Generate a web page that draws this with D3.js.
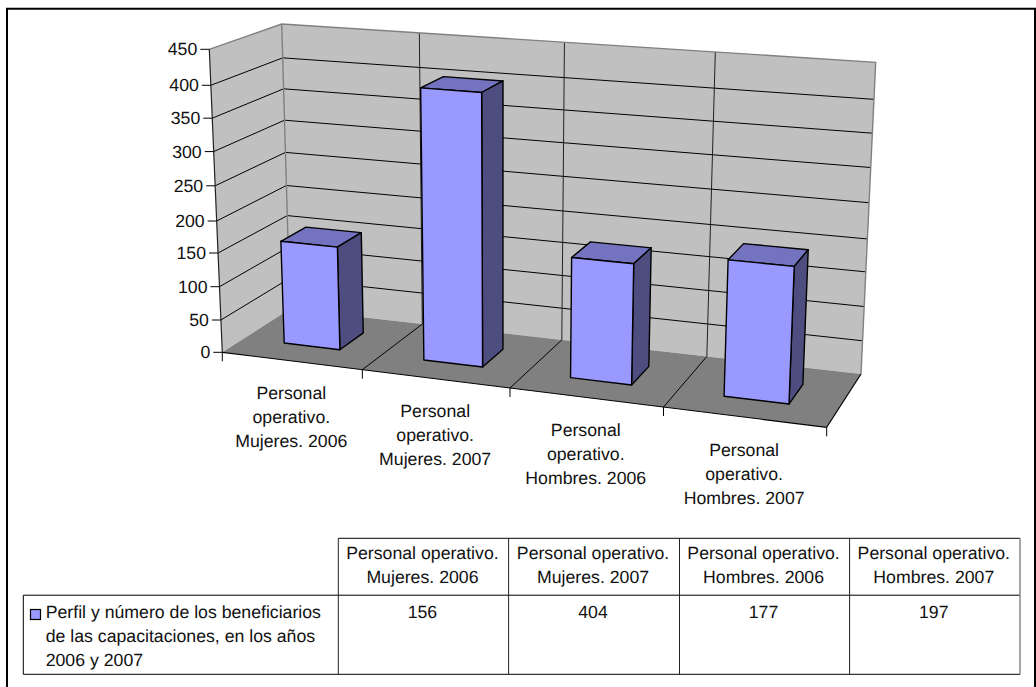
<!DOCTYPE html>
<html><head><meta charset="utf-8">
<script src="https://cdn.jsdelivr.net/npm/d3@7/dist/d3.min.js"></script>
<style>html,body{margin:0;padding:0;background:#fff}svg{display:block}text{font-family:"Liberation Sans",Arial,sans-serif;fill:#111;text-rendering:geometricPrecision}</style>
</head><body><svg id="c" width="1036" height="687"></svg>
<script>
const groups = ["Mujeres. 2006","Mujeres. 2007","Hombres. 2006","Hombres. 2007"];
const roleShort = ["Personal","operativo."];
const roleLong = "Personal operativo.";
const values = [156,404,177,197];
const valueTicks = [0,50,100,150,200,250,300,350,400,450];
const seriesLabel = ["Perfil y número de los beneficiarios","de las capacitaciones, en los años","2006 y 2007"];
const FS = 17.7;

const svg = d3.select("#c");
// projected box corners
const FFL=[222.3,352.3],FFR=[826.7,427.3],BFL=[290,309],BFR=[861,374];
const FTL=[209.3,49.3],FTR=[841,96.3],BTL=[281.7,24],BTR=[875.7,62.3];
const uS = d3.scaleLinear().domain([0,1,2,3,4]).range([0,.2317,.476,.73,1]);
const vS = d3.scaleLinear().domain(valueTicks).range([0,.1066,.2165,.3277,.4333,.5495,.6624,.7726,.8812,1]);
const mix=(a,b,t)=>[a[0]+(b[0]-a[0])*t,a[1]+(b[1]-a[1])*t];
function P(u,v,w){
  const t=uS(u), f=vS(v);
  const bot=mix(mix(FFL,FFR,t),mix(BFL,BFR,t),w);
  const top=mix(mix(FTL,FTR,t),mix(BTL,BTR,t),w);
  return mix(bot,top,f);
}
const line=d3.line();
const poly=(pts,fill,stroke,sw)=>svg.append("path").attr("d",line(pts)+"Z").attr("fill",fill).attr("stroke",stroke||"none").attr("stroke-width",sw||0).attr("stroke-linejoin","round");
const seg=(pts,stroke,sw)=>svg.append("path").attr("d",line(pts)).attr("fill","none").attr("stroke",stroke).attr("stroke-width",sw);
const vMax=d3.max(valueTicks), n=groups.length;

// frame
seg([[7,687],[7,8.7],[1035,8.7],[1035,687]],"#000",2);

// walls + floor
poly([P(0,0,0),P(0,vMax,0),P(0,vMax,1),P(0,0,1)],"#C0C0C0");
poly([P(0,0,1),P(0,vMax,1),P(n,vMax,1),P(n,0,1)],"#C0C0C0");
poly([P(0,0,0),P(n,0,0),P(n,0,1),P(0,0,1)],"#808080");

// grid
valueTicks.filter(v=>v>0&&v<vMax).forEach(v=>seg([P(0,v,0),P(0,v,1),P(n,v,1)],"#000",1));
d3.range(1,n).forEach(i=>{
  seg([P(i,0,1),P(i,vMax,1)],"#222",1);
  seg([P(i,0,0),P(i,0,1)],"#000",1);
});
// wall edges
seg([P(0,vMax,0),P(0,vMax,1),P(n,vMax,1),P(n,0,1)],"#808080",1.4);
seg([P(0,0,1),P(0,vMax,1)],"#808080",1.4);
seg([P(n,0,0),P(n,0,1)],"#000",1.2);
seg([P(0,0,0),P(n,0,0)],"#000",1.2);
seg([P(0,vMax,0),P(0,0,0)],"#222",1.2);

// axis ticks + labels
valueTicks.forEach(v=>{
  const p=P(0,v,0);
  seg([[p[0]-9,p[1]],p],"#000",1);
  svg.append("text").attr("x",p[0]-12).attr("y",p[1]+6).attr("text-anchor","end").attr("font-size",FS).text(v);
});
d3.range(0,n+1).forEach(i=>{
  const p=P(i,0,0);
  seg([p,[p[0],p[1]+9]],"#000",1);
});
groups.forEach((g,i)=>{
  const p=P(i+.5,0,0);
  [...roleShort,g].forEach((t,j)=>svg.append("text").attr("x",p[0]-1).attr("y",p[1]+38.5+j*24).attr("text-anchor","middle").attr("font-size",FS).text(t));
});

// bars
const u0=.29,u1=.695,w0=.325,w1=.70;
values.forEach((val,i)=>{
  const a=i+u0,b=i+u1;
  poly([P(a,val,w0),P(b,val,w0),P(b,val,w1),P(a,val,w1)],"#7373BF","#000",1.4);
  poly([P(b,0,w0),P(b,val,w0),P(b,val,w1),P(b,0,w1)],"#4D4D80","#000",1.4);
  poly([P(a,0,w0),P(b,0,w0),P(b,val,w0),P(a,val,w0)],"#9999FF","#000",1.4);
});

// data table
const colX=[338.3,508.6,679.5,849.6,1020], rowY=[538.3,595.2,674.3], tableLeft=23.3;
seg([[colX[0],rowY[0]],[colX[4],rowY[0]]],"#000",1);
seg([[tableLeft,rowY[1]],[colX[4],rowY[1]]],"#000",1);
seg([[tableLeft,rowY[2]],[colX[4],rowY[2]]],"#000",1);
seg([[tableLeft,rowY[1]],[tableLeft,rowY[2]]],"#000",1);
colX.forEach((x,i)=>seg([[x,rowY[0]],[x,rowY[2]]],i==4?"#808080":"#222",i==4?1.4:1));
groups.forEach((g,i)=>{
  const cx=(colX[i]+colX[i+1])/2;
  [roleLong,g].forEach((t,j)=>svg.append("text").attr("x",cx-1).attr("y",559+j*23.7).attr("text-anchor","middle").attr("font-size",FS).text(t));
  svg.append("text").attr("x",cx-1).attr("y",617.8).attr("text-anchor","middle").attr("font-size",FS).text(values[i]);
});
svg.append("rect").attr("x",30.5).attr("y",609.5).attr("width",10).attr("height",10).attr("fill","#9999FF").attr("stroke","#000").attr("stroke-width",1.2);
seriesLabel.forEach((t,j)=>svg.append("text").attr("x",45.7).attr("y",618.3+j*24).attr("font-size",FS).text(t));
</script></body></html>
